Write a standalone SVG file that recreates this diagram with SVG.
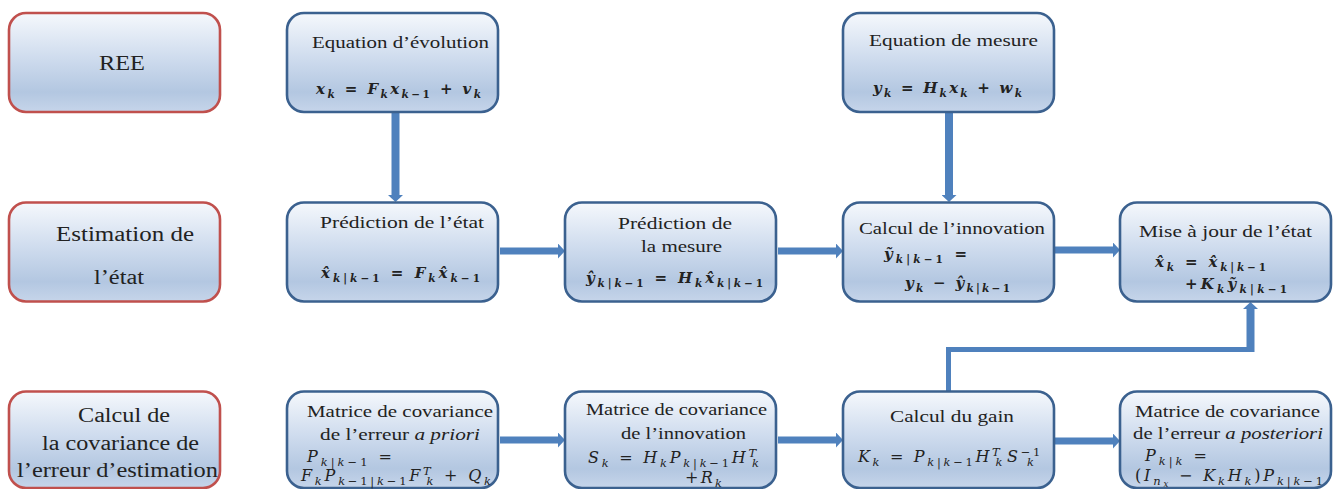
<svg xmlns="http://www.w3.org/2000/svg" width="1336" height="489" viewBox="0 0 1336 489">
<defs>
<linearGradient id="g" x1="0" y1="0" x2="0" y2="1">
<stop offset="0" stop-color="#f5f8fc"/>
<stop offset="0.45" stop-color="#cfdcee"/>
<stop offset="0.8" stop-color="#b3c7e1"/>
<stop offset="1" stop-color="#c6d5ea"/>
</linearGradient>
<marker id="ah" markerUnits="userSpaceOnUse" markerWidth="7" markerHeight="15" viewBox="0 0 7 15" refX="0" refY="7.5" orient="auto">
<path d="M0,0 L7,7.5 L0,15 z" fill="#4f81bd"/>
</marker>
<style>
.bx{fill:url(#g);stroke-width:2.6}
.r{stroke:#c0504d}
.b{stroke:#3b618f}
.t{font-family:"Liberation Serif","Times New Roman",serif;font-size:16.5px;fill:#222}
.L{font-size:20px}
.m{font-family:"DejaVu Serif","Liberation Serif",serif;font-size:15px;font-style:italic;fill:#222}
.m3{font-size:16px}
.mb{font-weight:bold}
.s{font-size:10.5px}
.m3 .s{font-size:11.5px}
.n{font-style:normal}
.it{font-style:italic}
.c{fill:none;stroke:#4f81bd}
</style>
</defs>
<rect width="1336" height="489" fill="#ffffff"/>

<g id="connectors">
<line class="c" x1="395.5" y1="113" x2="395.5" y2="195" stroke-width="8" marker-end="url(#ah)"/>
<line class="c" x1="949" y1="113" x2="949" y2="195" stroke-width="8" marker-end="url(#ah)"/>
<line class="c" x1="500" y1="251" x2="558" y2="251" stroke-width="7" marker-end="url(#ah)"/>
<line class="c" x1="778" y1="251" x2="836" y2="251" stroke-width="7" marker-end="url(#ah)"/>
<line class="c" x1="1055" y1="250" x2="1113" y2="250" stroke-width="7" marker-end="url(#ah)"/>
<line class="c" x1="500" y1="440" x2="558" y2="440" stroke-width="7" marker-end="url(#ah)"/>
<line class="c" x1="778" y1="440" x2="836" y2="440" stroke-width="7" marker-end="url(#ah)"/>
<line class="c" x1="1055" y1="441" x2="1113" y2="441" stroke-width="7" marker-end="url(#ah)"/>
<polyline class="c" points="948.5,391 948.5,349.5 1253,349.5" stroke-width="5"/>
<line class="c" x1="1250.5" y1="352" x2="1250.5" y2="309" stroke-width="8" marker-end="url(#ah)"/>
</g>

<g id="ree">
<rect class="bx r" x="9" y="13" width="211" height="99" rx="17"/>
<text class="t L" x="99" y="70" textLength="46" lengthAdjust="spacingAndGlyphs">REE</text>
</g>
<g id="eq-evolution">
<rect class="bx b" x="287" y="13" width="211" height="99" rx="17"/>
<text class="t" x="312" y="48" textLength="177" lengthAdjust="spacingAndGlyphs">Equation d’évolution</text>
<text class="m mb" x="316" y="94" textLength="165"><tspan>x</tspan><tspan class="s" dy="4">k</tspan><tspan class="n" dy="-4"> = </tspan><tspan>F</tspan><tspan class="s" dy="4">k</tspan><tspan dy="-4">x</tspan><tspan class="s" dy="4">k<tspan class="n">−1</tspan></tspan><tspan class="n" dy="-4"> + </tspan><tspan>v</tspan><tspan class="s" dy="4">k</tspan></text>
</g>
<g id="eq-mesure">
<rect class="bx b" x="843" y="13" width="211" height="99" rx="17"/>
<text class="t" x="869" y="46" textLength="169" lengthAdjust="spacingAndGlyphs">Equation de mesure</text>
<text class="m mb" x="873" y="93" textLength="149"><tspan>y</tspan><tspan class="s" dy="4">k</tspan><tspan class="n" dy="-4"> = </tspan><tspan>H</tspan><tspan class="s" dy="4">k</tspan><tspan dy="-4">x</tspan><tspan class="s" dy="4">k</tspan><tspan class="n" dy="-4"> + </tspan><tspan>w</tspan><tspan class="s" dy="4">k</tspan></text>
</g>

<g id="estimation">
<rect class="bx r" x="9" y="202.5" width="211" height="99" rx="17"/>
<text class="t L" x="56" y="241" textLength="138" lengthAdjust="spacingAndGlyphs">Estimation de</text>
<text class="t L" x="94" y="284" textLength="50" lengthAdjust="spacingAndGlyphs">l’état</text>
</g>
<g id="prediction-etat">
<rect class="bx b" x="287" y="202.5" width="211" height="99" rx="17"/>
<text class="t" x="320" y="228" textLength="164" lengthAdjust="spacingAndGlyphs">Prédiction de l’état</text>
<text class="m mb" x="321" y="278" textLength="159"><tspan>x̂</tspan><tspan class="s" dy="4">k<tspan class="n">|</tspan>k<tspan class="n">−1</tspan></tspan><tspan class="n" dy="-4"> = </tspan><tspan>F</tspan><tspan class="s" dy="4">k</tspan><tspan dy="-4">x̂</tspan><tspan class="s" dy="4">k<tspan class="n">−1</tspan></tspan></text>
</g>
<g id="prediction-mesure">
<rect class="bx b" x="565" y="202.5" width="211" height="99" rx="17"/>
<text class="t" x="618" y="229" textLength="114" lengthAdjust="spacingAndGlyphs">Prédiction de</text>
<text class="t" x="641" y="252" textLength="81" lengthAdjust="spacingAndGlyphs">la mesure</text>
<text class="m mb" x="586" y="283" textLength="177"><tspan>ŷ</tspan><tspan class="s" dy="4">k<tspan class="n">|</tspan>k<tspan class="n">−1</tspan></tspan><tspan class="n" dy="-4"> = </tspan><tspan>H</tspan><tspan class="s" dy="4">k</tspan><tspan dy="-4">x̂</tspan><tspan class="s" dy="4">k<tspan class="n">|</tspan>k<tspan class="n">−1</tspan></tspan></text>
</g>
<g id="innovation">
<rect class="bx b" x="843" y="202.5" width="211" height="99" rx="17"/>
<text class="t" x="859" y="234" textLength="186" lengthAdjust="spacingAndGlyphs">Calcul de l’innovation</text>
<text class="m mb" x="884" y="259" textLength="83"><tspan>ỹ</tspan><tspan class="s" dy="4">k<tspan class="n">|</tspan>k<tspan class="n">−1</tspan></tspan><tspan class="n" dy="-4"> =</tspan></text>
<text class="m mb" x="905" y="288" textLength="105"><tspan>y</tspan><tspan class="s" dy="4">k</tspan><tspan class="n" dy="-4"> − </tspan><tspan>ŷ</tspan><tspan class="s" dy="4">k<tspan class="n">|</tspan>k<tspan class="n">−1</tspan></tspan></text>
</g>
<g id="mise-a-jour">
<rect class="bx b" x="1120" y="202.5" width="211" height="99" rx="17"/>
<text class="t" x="1139" y="237" textLength="173" lengthAdjust="spacingAndGlyphs">Mise à jour de l’état</text>
<text class="m mb" x="1155" y="267" textLength="111"><tspan>x̂</tspan><tspan class="s" dy="4">k</tspan><tspan class="n" dy="-4"> = </tspan><tspan>x̂</tspan><tspan class="s" dy="4">k<tspan class="n">|</tspan>k<tspan class="n">−1</tspan></tspan></text>
<text class="m mb" x="1185" y="289" textLength="102"><tspan class="n">+</tspan><tspan>K</tspan><tspan class="s" dy="4">k</tspan><tspan dy="-4">ỹ</tspan><tspan class="s" dy="4">k<tspan class="n">|</tspan>k<tspan class="n">−1</tspan></tspan></text>
</g>

<g id="covariance-label">
<rect class="bx r" x="9" y="391.5" width="211" height="96.5" rx="17"/>
<text class="t L" x="78" y="422" textLength="92" lengthAdjust="spacingAndGlyphs">Calcul de</text>
<text class="t L" x="42" y="450" textLength="157" lengthAdjust="spacingAndGlyphs">la covariance de</text>
<text class="t L" x="17" y="477" textLength="201" lengthAdjust="spacingAndGlyphs">l’erreur d’estimation</text>
</g>
<g id="cov-a-priori">
<rect class="bx b" x="287" y="391.5" width="211" height="96.5" rx="17"/>
<text class="t" x="307" y="417" textLength="186" lengthAdjust="spacingAndGlyphs">Matrice de covariance</text>
<text class="t" x="320" y="440" textLength="160" lengthAdjust="spacingAndGlyphs">de l’erreur <tspan class="it">a priori</tspan></text>
<text class="m m3" x="307" y="462" textLength="85"><tspan>P</tspan><tspan class="s" dy="3.5">k<tspan class="n">|</tspan>k<tspan class="n">−1</tspan></tspan><tspan class="n" dy="-3.5"> =</tspan></text>
<text class="m m3" x="301" y="481" textLength="190"><tspan>F</tspan><tspan class="s" dy="3.5">k</tspan><tspan dy="-3.5">P</tspan><tspan class="s" dy="3.5">k<tspan class="n">−1|</tspan>k<tspan class="n">−1</tspan></tspan><tspan dy="-3.5">F</tspan><tspan class="s" dy="-6.5">T</tspan><tspan class="s" dx="-7" dy="10">k</tspan><tspan class="n" dy="-3.5"> + </tspan><tspan>Q</tspan><tspan class="s" dy="3.5">k</tspan></text>
</g>
<g id="cov-innovation">
<rect class="bx b" x="565" y="391.5" width="211" height="96.5" rx="17"/>
<text class="t" x="586" y="415" textLength="181" lengthAdjust="spacingAndGlyphs">Matrice de covariance</text>
<text class="t" x="621" y="439" textLength="125" lengthAdjust="spacingAndGlyphs">de l’innovation</text>
<text class="m m3" x="588" y="463" textLength="171"><tspan>S</tspan><tspan class="s" dy="3.5">k</tspan><tspan class="n" dy="-3.5"> = </tspan><tspan>H</tspan><tspan class="s" dy="3.5">k</tspan><tspan dy="-3.5">P</tspan><tspan class="s" dy="3.5">k<tspan class="n">|</tspan>k<tspan class="n">−1</tspan></tspan><tspan dy="-3.5">H</tspan><tspan class="s" dy="-6.5">T</tspan><tspan class="s" dx="-7" dy="10">k</tspan></text>
<text class="m m3" x="685" y="483" textLength="37"><tspan class="n">+</tspan><tspan>R</tspan><tspan class="s" dy="3.5">k</tspan></text>
</g>
<g id="gain">
<rect class="bx b" x="843" y="391.5" width="211" height="96.5" rx="17"/>
<text class="t" x="890" y="422" textLength="124" lengthAdjust="spacingAndGlyphs">Calcul du gain</text>
<text class="m m3" x="858" y="462" textLength="185"><tspan>K</tspan><tspan class="s" dy="3.5">k</tspan><tspan class="n" dy="-3.5"> = </tspan><tspan>P</tspan><tspan class="s" dy="3.5">k<tspan class="n">|</tspan>k<tspan class="n">−1</tspan></tspan><tspan dy="-3.5">H</tspan><tspan class="s" dy="-6.5">T</tspan><tspan class="s" dx="-7" dy="10">k</tspan><tspan dx="2" dy="-3.5">S</tspan><tspan class="s" dy="-6.5"><tspan class="n">−1</tspan></tspan><tspan class="s" dx="-16" dy="10">k</tspan></text>
</g>
<g id="cov-a-posteriori">
<rect class="bx b" x="1120" y="391.5" width="211" height="96.5" rx="17"/>
<text class="t" x="1135" y="417" textLength="185" lengthAdjust="spacingAndGlyphs">Matrice de covariance</text>
<text class="t" x="1133" y="439" textLength="190" lengthAdjust="spacingAndGlyphs">de l’erreur <tspan class="it">a posteriori</tspan></text>
<text class="m m3" x="1145" y="461" textLength="62"><tspan>P</tspan><tspan class="s" dy="3.5">k<tspan class="n">|</tspan>k</tspan><tspan class="n" dy="-3.5"> =</tspan></text>
<text class="m m3" x="1135" y="481" textLength="188"><tspan class="n">(</tspan><tspan>I</tspan><tspan class="s" dy="3.5">n<tspan font-size="8.5" dy="2">x</tspan></tspan><tspan class="n" dy="-5.5"> − </tspan><tspan>K</tspan><tspan class="s" dy="3.5">k</tspan><tspan dy="-3.5">H</tspan><tspan class="s" dy="3.5">k</tspan><tspan class="n" dy="-3.5">)</tspan><tspan>P</tspan><tspan class="s" dy="3.5">k<tspan class="n">|</tspan>k<tspan class="n">−1</tspan></tspan></text>
</g>
</svg>
